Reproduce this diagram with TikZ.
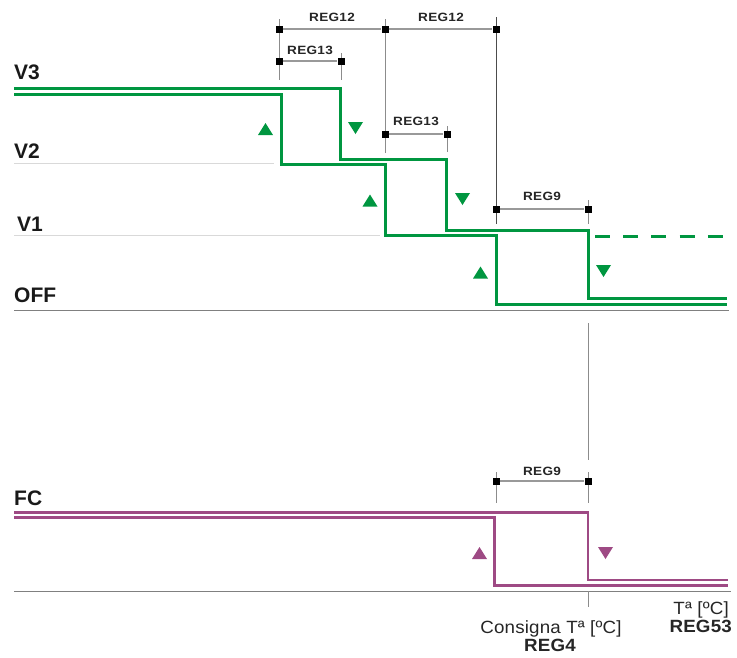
\documentclass[tikz,border=0pt]{standalone}
\usepackage{fontspec}
\setmainfont{Liberation Sans}
\newfontfamily\regfont[FakeStretch=1.13,LetterSpace=2.5]{Liberation Sans}
\newfontfamily\axfont[FakeStretch=1.06,LetterSpace=1]{Liberation Sans}
\definecolor{fgreen}{RGB}{0,150,64}
\definecolor{fmag}{RGB}{158,74,132}
\begin{document}
\begin{tikzpicture}[x=1pt,y=-1pt,
  lvl/.style={font=\bfseries\fontsize{21}{21}\selectfont,inner sep=0pt,anchor=base west,text=black!90},
  reglbl/.style={font=\regfont\bfseries\fontsize{12}{12}\selectfont,inner sep=0pt,anchor=base,text=black!85},
  axlbl/.style={font=\axfont\fontsize{17.7}{18}\selectfont,inner sep=0pt,text=black!85},
  axbold/.style={font=\axfont\bfseries\fontsize{17.7}{18}\selectfont,inner sep=0pt,text=black!85},
  gline/.style={fgreen,line width=3pt,line join=miter},
  mline/.style={fmag,line width=2.6pt,line join=miter},
  dimh/.style={black!40,line width=1.1pt},
  dimv/.style={black!45,line width=1pt},
  dimvd/.style={black!70,line width=0.9pt},
  sq/.style={fill=black,inner sep=0pt,minimum size=7pt,draw=none,rectangle},
  uptri/.pic={\fill (-7.5,6) -- (7.5,6) -- (0,-6) -- cycle;},
  dntri/.pic={\fill (-7.5,-6) -- (7.5,-6) -- (0,6) -- cycle;}
]
\useasboundingbox (0,0) rectangle (737,657);

% level labels
\node[lvl] (v3) at (14,79.3) {V3};
\node[lvl] (v2) at (14,158.3) {V2};
\node[lvl] (v1) at (17,231) {V1};
\node[lvl] (off) at (14,302) {OFF};
\node[lvl] (fc) at (14,505) {FC};

% gray level lines
\draw[black!15,line width=1pt] (14,163.5) -- (274,163.5);
\draw[black!15,line width=1pt] (14,235.5) -- (380,235.5);
\draw[black!50,line width=1pt] (14,310) -- (729,310);
\draw[black!50,line width=1pt] (14,591) -- (731,591);

% dimension verticals
\draw[dimv] (279,19) -- (279,80);
\draw[dimv] (341,53) -- (341,80);
\draw[dimv] (385,19) -- (385,153);
\draw[dimv] (447,126) -- (447,152);
\draw[dimvd] (496,17) -- (496,224);
\draw[dimv] (588,200) -- (588,224);
\draw[dimv] (588,323) -- (588,460);
\draw[dimv] (588,472) -- (588,503);
\draw[dimv] (496,472) -- (496,503);
\draw[dimv] (588,591) -- (588,607);

% dimension squares
\node[sq] (s1) at (279,29) {};
\node[sq] (s2) at (385,29) {};
\node[sq] (s3) at (496,29) {};
\node[sq] (s4) at (279,61) {};
\node[sq] (s5) at (341,61) {};
\node[sq] (s6) at (385,134) {};
\node[sq] (s7) at (447,134) {};
\node[sq] (s8) at (496,209) {};
\node[sq] (s9) at (588,209) {};
\node[sq] (s10) at (496,481) {};
\node[sq] (s11) at (588,481) {};
\draw[dimh] (s1) -- (s2);
\draw[dimh] (s2) -- (s3);
\draw[dimh] (s4) -- (s5);
\draw[dimh] (s6) -- (s7);
\draw[dimh] (s8) -- (s9);
\draw[dimh] (s10) -- (s11);

% dimension labels
\node[reglbl] (r12a) at (332,21.5) {REG12};
\node[reglbl] (r12b) at (441,21.5) {REG12};
\node[reglbl] (r13a) at (310,54) {REG13};
\node[reglbl] (r13b) at (416,125) {REG13};
\node[reglbl] (r9a) at (542,200) {REG9};
\node[reglbl] (r9b) at (542,475) {REG9};

% green steps
\draw[gline] (14,94.5) -- (281,94.5) -- (281,164.5) -- (385,164.5) -- (385,235.8) -- (496,235.8) -- (496,304.5) -- (727,304.5);
\draw[gline] (14,88) -- (340.5,88) -- (340.5,159.5) -- (446,159.5) -- (446,230.5) -- (588,230.5) -- (588,298.5) -- (727,298.5);
\draw[gline,dash pattern=on 15pt off 13.2pt] (595,236) -- (727,236);

% green triangles
\begin{scope}[fgreen]
\pic at (265.5,129) {uptri};
\pic at (355.5,128) {dntri};
\pic at (370,200.5) {uptri};
\pic at (462.5,199) {dntri};
\pic at (480.5,272.5) {uptri};
\pic at (603.5,271) {dntri};
\end{scope}

% magenta steps
\draw[mline] (14,517.5) -- (494.5,517.5) -- (494.5,585.7) -- (728,585.7);
\draw[mline] (14,512.3) -- (587.8,512.3) -- (587.8,580) -- (728,580);
\begin{scope}[fmag]
\pic at (479.5,553) {uptri};
\pic at (605.5,553) {dntri};
\end{scope}

% axis labels
\node[axlbl,anchor=base] (cons) at (551,633) {Consigna Tª [ºC]};
\node[axbold,anchor=base] (reg4) at (550,651) {REG4};
\node[axlbl,anchor=base east] (ta) at (729,614) {Tª [ºC]};
\node[axbold,anchor=base east] (reg53) at (732,632) {REG53};
\end{tikzpicture}
\end{document}
